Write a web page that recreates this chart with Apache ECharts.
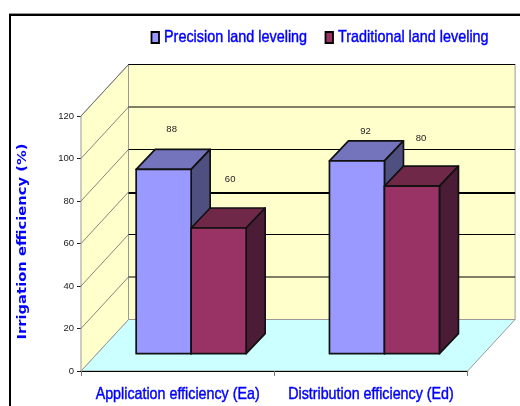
<!DOCTYPE html>
<html><head><meta charset="utf-8">
<style>html,body{margin:0;padding:0;background:#fff}#c{width:520px;height:406px}</style>
<script src="https://cdn.jsdelivr.net/npm/echarts@6/dist/echarts.min.js"></script>
</head><body><div id="c"></div>
<script>
const categories = ['Application efficiency (Ea)', 'Distribution efficiency (Ed)'];
const precision = [88, 92];
const traditional = [60, 80];
const yTicks = [0, 20, 40, 60, 80, 100, 120];
const seriesNames = ['Precision land leveling', 'Traditional land leveling'];
const axisTitle = 'Irrigation efficiency (%)';

const sans = '"Liberation Sans",sans-serif';
const blue = '#0000FF';
const wall = {dx: 47.5, dy: 51.5};
const bar = {dx: 19, dy: 20, band: 0.2845};
const labelLift = [[40, 30], [49, 48]];
const labelShift = [[8, 8.5], [11.5, 9]];
const heavyGridTick = 60;
const palette = [
  {front: '#9999FF', top: '#7474BC', side: '#4F4F80'},
  {front: '#993366', top: '#702848', side: '#4A1C36'}
];
const tallText = {font: '17px ' + sans, fill: blue, stroke: blue, lineWidth: 0.45};

function wallItem(params, api) {
  const cs = params.coordSys;
  const x0 = cs.x, x1 = cs.x + cs.width;
  const yOf = v => api.coord([0, v])[1];
  const y0 = yOf(0), yT = yOf(yTicks[yTicks.length - 1]);
  const bx0 = x0 + wall.dx, bx1 = x1 + wall.dx;
  const kids = [
    {type: 'polygon', shape: {points: [[x0, y0], [x1, y0], [bx1, y0 - wall.dy], [bx0, y0 - wall.dy]]},
      style: {fill: '#CCFFFF', stroke: '#999', lineWidth: 1}},
    {type: 'polygon', shape: {points: [[x0, y0], [bx0, y0 - wall.dy], [bx0, yT - wall.dy], [x0, yT]]},
      style: {fill: '#FFFFCC', stroke: '#999', lineWidth: 1}},
    {type: 'rect', shape: {x: bx0, y: yT - wall.dy, width: bx1 - bx0, height: y0 - yT},
      style: {fill: '#FFFFCC', stroke: '#999', lineWidth: 1}}
  ];
  yTicks.forEach((t, i) => {
    const y = yOf(t);
    if (i > 0) {
      const heavy = t === heavyGridTick;
      kids.push({type: 'line', shape: {x1: bx0, y1: y - wall.dy + (heavy ? 1 : 0), x2: bx1, y2: y - wall.dy + (heavy ? 1 : 0)},
        style: {stroke: '#000', lineWidth: heavy ? 2 : 1.2}});
      kids.push({type: 'line', shape: {x1: x0, y1: y, x2: bx0, y2: y - wall.dy},
        style: {stroke: '#666', lineWidth: 0.8}});
    }
  });
  kids.push({type: 'line', shape: {x1: bx0, y1: yT - wall.dy, x2: bx1, y2: yT - wall.dy},
    style: {stroke: '#000', lineWidth: 1.2}});
  return {type: 'group', children: kids};
}

function categoryLabel(params, api) {
  const cat = api.value(0);
  const p = api.coord([cat, 0]);
  return {type: 'text', x: p[0], y: p[1] + 23, scaleX: 0.84, scaleY: 1,
    style: Object.assign({text: categories[cat], align: 'center', verticalAlign: 'middle'}, tallText)};
}

function barItem(idx) {
  return function (params, api) {
    const cat = api.value(0), val = api.value(1);
    const top = api.coord([cat, val]), base = api.coord([cat, 0]);
    const w = api.size([1, 0])[0] * bar.band;
    const l = top[0] + (idx - 1) * w, r = l + w;
    const p = palette[idx];
    const edge = {stroke: '#111', lineWidth: 1.7, lineJoin: 'round'};
    return {type: 'group', children: [
      {type: 'polygon', shape: {points: [[l, top[1]], [r, top[1]], [r + bar.dx, top[1] - bar.dy], [l + bar.dx, top[1] - bar.dy]]},
        style: Object.assign({fill: p.top}, edge)},
      {type: 'polygon', shape: {points: [[r, top[1]], [r + bar.dx, top[1] - bar.dy], [r + bar.dx, base[1] - bar.dy], [r, base[1]]]},
        style: Object.assign({fill: p.side}, edge)},
      {type: 'rect', shape: {x: l, y: top[1], width: w, height: base[1] - top[1]},
        style: Object.assign({fill: p.front}, edge)},
      {type: 'text', style: {
        text: String(val),
        x: l + w / 2 + labelShift[idx][cat],
        y: top[1] - labelLift[idx][cat],
        font: '9.5px ' + sans, fill: '#222', align: 'center', verticalAlign: 'middle'
      }}
    ]};
  };
}

function legendEntry(name, i, markerX, textX) {
  return {type: 'group', children: [
    {type: 'rect', shape: {x: markerX, y: 32, width: 7.5, height: 11},
      style: {fill: palette[i].front, stroke: '#000', lineWidth: 1.8}},
    {type: 'text', x: textX, y: 37.5, scaleX: 0.846,
      style: Object.assign({text: name, align: 'left', verticalAlign: 'middle'}, tallText)}
  ]};
}

const chart = echarts.init(document.getElementById('c'), null, {renderer: 'canvas'});
chart.setOption({
  animation: false,
  backgroundColor: '#fff',
  graphic: [
    {type: 'line', shape: {x1: 9, y1: 13.5, x2: 520, y2: 13.5}, style: {stroke: '#999', lineWidth: 1}},
    {type: 'line', shape: {x1: 9, y1: 15, x2: 520, y2: 15}, style: {stroke: '#000', lineWidth: 2}},
    {type: 'line', shape: {x1: 10, y1: 14, x2: 10, y2: 406}, style: {stroke: '#000', lineWidth: 2}},
    legendEntry(seriesNames[0], 0, 151.5, 164),
    legendEntry(seriesNames[1], 1, 325.5, 338),
    {type: 'text', x: 22.5, y: 241.5, rotation: Math.PI / 2, scaleX: 1.23,
      style: {text: axisTitle, font: 'bold 12px "DejaVu Sans",sans-serif', fill: blue, align: 'center', verticalAlign: 'middle'}}
  ],
  grid: [
    {left: 81, top: 116, width: 386.6, height: 255},
    {left: 94.5, top: 102.3, width: 386.6, height: 251.4}
  ],
  xAxis: [
    {type: 'category', gridIndex: 0, data: categories, z: 4,
      axisLine: {lineStyle: {color: '#000', width: 1.2}},
      axisTick: {show: true, length: 5, alignWithLabel: false, lineStyle: {color: '#777'}},
      axisLabel: {show: false}},
    {type: 'category', gridIndex: 1, data: categories, show: false}
  ],
  yAxis: [
    {type: 'value', gridIndex: 0, min: 0, max: 120, interval: 20,
      axisLine: {show: true, lineStyle: {color: '#888'}},
      axisTick: {show: true, length: 4, lineStyle: {color: '#222'}},
      axisLabel: {color: '#222', fontFamily: sans, fontSize: 9.5, margin: 7},
      splitLine: {show: false}},
    {type: 'value', gridIndex: 1, min: 0, max: 120, interval: 20, show: false, splitLine: {show: false}}
  ],
  series: [
    {type: 'custom', xAxisIndex: 0, yAxisIndex: 0, z: 1, clip: false, silent: true,
      data: [[0, 0]], renderItem: wallItem},
    {type: 'custom', xAxisIndex: 0, yAxisIndex: 0, z: 5, clip: false, silent: true,
      data: categories.map((c, i) => [i, 0]), renderItem: categoryLabel},
    {type: 'custom', name: seriesNames[0], xAxisIndex: 1, yAxisIndex: 1, z: 3, clip: false,
      itemStyle: {color: palette[0].front},
      data: precision.map((v, i) => [i, v]), encode: {x: 0, y: 1}, renderItem: barItem(0)},
    {type: 'custom', name: seriesNames[1], xAxisIndex: 1, yAxisIndex: 1, z: 3, clip: false,
      itemStyle: {color: palette[1].front},
      data: traditional.map((v, i) => [i, v]), encode: {x: 0, y: 1}, renderItem: barItem(1)}
  ]
});
</script></body></html>
